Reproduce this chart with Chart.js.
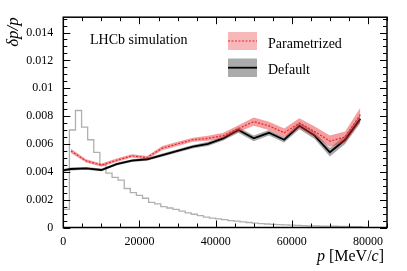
<!DOCTYPE html>
<html>
<head>
<meta charset="utf-8">
<script src="https://cdn.jsdelivr.net/npm/chart.js@4.4.0/dist/chart.umd.min.js"></script>
<style>
  html, body { margin: 0; padding: 0; background: #fff; }
  canvas { display: block; }
</style>
</head>
<body>
<canvas id="chart" width="407" height="271"></canvas>
<script>
const SERIF = "'Liberation Serif', 'DejaVu Serif', serif";

// momentum bin centres [MeV/c]
const pCentres = [2000, 6000, 10000, 14000, 18000, 22000, 26000, 30000, 34000, 38000,
                  42000, 46000, 50000, 54000, 58000, 62000, 66000, 70000, 74000, 78000];
const pDefault = [0, 2000, 6000, 10000, 14000, 18000, 22000, 26000, 30000, 34000, 38000,
                  42000, 46000, 50000, 54000, 58000, 62000, 66000, 70000, 74000, 78000];

// resolution dp/p
const paramRes = [0.0055, 0.00478, 0.00448, 0.00483, 0.00514, 0.00502, 0.0057, 0.0060, 0.0063, 0.0064,
                  0.0066, 0.0071, 0.0076, 0.0073, 0.0068, 0.0075, 0.0069, 0.0062, 0.0065, 0.0081];
const paramErr = [0.00015, 0.00012, 0.00012, 0.00012, 0.00012, 0.00012, 0.00015, 0.00015, 0.00015, 0.00018,
                  0.0002, 0.00025, 0.0003, 0.0003, 0.0003, 0.00035, 0.00035, 0.0004, 0.0004, 0.0005];
const defaultRes = [0.0041, 0.0042, 0.00424, 0.00413, 0.00455, 0.0048, 0.0049, 0.0052, 0.0055, 0.0058, 0.0060,
                    0.0064, 0.0070, 0.0064, 0.0068, 0.0063, 0.0073, 0.0066, 0.0054, 0.0063, 0.0078];
const defaultErr = [0.0001, 0.0001, 0.0001, 0.0001, 0.0001, 0.0001, 0.0001, 0.00012, 0.00012, 0.00012, 0.00015,
                    0.00015, 0.0002, 0.0002, 0.0002, 0.0002, 0.00025, 0.00025, 0.0003, 0.0003, 0.0003];

// momentum spectrum (arbitrary scale), bins of 1600 MeV/c from 0
const histBinWidth = 1600;
const histValues = [0, 0.0013, 0.0070, 0.0084, 0.0072, 0.0063, 0.0054, 0.0045, 0.0039, 0.0036,
                    0.0034, 0.0028, 0.0025, 0.0023, 0.0021, 0.0018, 0.0017, 0.0015, 0.0014, 0.0013,
                    0.00118, 0.00105, 0.00095, 0.00085, 0.00075, 0.00068, 0.00062, 0.00056, 0.0005, 0.00046,
                    0.0004, 0.00036, 0.00032, 0.00028, 0.00025, 0.00022, 0.0002, 0.00019, 0.00017, 0.00015,
                    0.00013, 0.00012, 0.00011, 0.0001, 0.0001, 0.00009, 0.00008, 0.00008, 0.00007, 0.00006];

// tick labels
const xTicks = [0, 20000, 40000, 60000, 80000];
const yTicks = [0, 0.002, 0.004, 0.006, 0.008, 0.01, 0.012, 0.014];

const xMax = 85000, yMax = 0.0151;

const pts = (xs, ys) => xs.map((x, i) => ({ x, y: ys[i] }));
const histPts = histValues.map((v, i) => ({ x: i * histBinWidth, y: v }));
histPts.push({ x: histValues.length * histBinWidth, y: 0 });

const RED = "#e8262a";

// inward ticks on all four sides + frame
const frameTicks = {
  id: "frameTicks",
  afterDatasetsDraw(chart) {
    const { ctx, chartArea: a, scales: { x, y } } = chart;
    ctx.save();
    ctx.strokeStyle = "#000";
    ctx.lineWidth = 1;
    ctx.beginPath();
    for (let i = 0; i * 5000 <= xMax; i++) {
      const px = Math.round(x.getPixelForValue(i * 5000)) + 0.5;
      const len = i % 4 === 0 ? 7 : 4;
      ctx.moveTo(px, a.bottom); ctx.lineTo(px, a.bottom - len);
      ctx.moveTo(px, a.top); ctx.lineTo(px, a.top + len);
    }
    for (let i = 0; i * 0.0005 <= yMax; i++) {
      const py = Math.round(y.getPixelForValue(i * 0.0005)) + 0.5;
      const len = i % 4 === 0 ? 7 : 4;
      ctx.moveTo(a.left, py); ctx.lineTo(a.left + len, py);
      ctx.moveTo(a.right, py); ctx.lineTo(a.right - len, py);
    }
    ctx.stroke();
    ctx.lineWidth = 1.5;
    ctx.strokeRect(a.left, a.top, a.right - a.left, a.bottom - a.top);
    ctx.restore();
  }
};

// legend, label and x title
const annotations = {
  id: "annotations",
  afterDraw(chart) {
    const { ctx } = chart;
    ctx.save();
    ctx.fillStyle = "#000";
    ctx.textBaseline = "alphabetic";
    ctx.font = `14px ${SERIF}`;
    ctx.fillText("LHCb simulation", 90, 44);

    // Parametrized
    ctx.fillStyle = "rgba(232,38,42,0.33)";
    ctx.fillRect(228, 32, 29, 18);
    ctx.strokeStyle = RED;
    ctx.lineWidth = 1.2;
    ctx.setLineDash([2, 1.5]);
    ctx.beginPath(); ctx.moveTo(228, 41); ctx.lineTo(257, 41); ctx.stroke();
    ctx.setLineDash([]);
    // Default
    ctx.fillStyle = "rgba(0,0,0,0.33)";
    ctx.fillRect(228, 58.5, 29, 18.5);
    ctx.strokeStyle = "#000";
    ctx.lineWidth = 1.8;
    ctx.beginPath(); ctx.moveTo(228, 67.7); ctx.lineTo(257, 67.7); ctx.stroke();

    ctx.fillStyle = "#000";
    ctx.font = `14px ${SERIF}`;
    ctx.fillText("Parametrized", 268, 47.5);
    ctx.fillText("Default", 268, 74.3);

    // x axis title: p [MeV/c]
    const parts = [["p", "italic "], [" [MeV/", ""], ["c", "italic "], ["]", ""]];
    let w = 0;
    parts.forEach(([t, s]) => { ctx.font = `${s}16px ${SERIF}`; w += ctx.measureText(t).width; });
    let xx = 384 - w;
    parts.forEach(([t, s]) => {
      ctx.font = `${s}16px ${SERIF}`;
      ctx.fillText(t, xx, 261);
      xx += ctx.measureText(t).width;
    });
    ctx.restore();
  }
};

new Chart(document.getElementById("chart"), {
  type: "line",
  data: {
    datasets: [
      { label: "Parametrized", data: pts(pCentres, paramRes), borderColor: RED, borderWidth: 1.2,
        borderDash: [2, 1.5], pointRadius: 0, fill: false, order: 0 },
      { label: "paramHi", data: pts(pCentres, paramRes.map((v, i) => v + paramErr[i])),
        borderWidth: 0, pointRadius: 0, fill: false, order: 1 },
      { label: "paramLo", data: pts(pCentres, paramRes.map((v, i) => v - paramErr[i])),
        borderWidth: 0, pointRadius: 0, fill: "-1", backgroundColor: "rgba(232,38,42,0.45)", order: 1 },
      { label: "Default", data: pts(pDefault, defaultRes), borderColor: "#000", borderWidth: 1.8,
        pointRadius: 0, fill: false, order: 2 },
      { label: "defaultHi", data: pts(pDefault, defaultRes.map((v, i) => v + defaultErr[i])),
        borderWidth: 0, pointRadius: 0, fill: false, order: 3 },
      { label: "defaultLo", data: pts(pDefault, defaultRes.map((v, i) => v - defaultErr[i])),
        borderWidth: 0, pointRadius: 0, fill: "-1", backgroundColor: "rgba(0,0,0,0.35)", order: 3 },
      { label: "spectrum", data: histPts, stepped: "after", borderColor: "#b0b0b0", borderWidth: 1.3,
        pointRadius: 0, fill: false, order: 4 }
    ]
  },
  options: {
    responsive: false,
    animation: false,
    layout: { padding: { left: 0, top: 14, right: 20, bottom: 0 } },
    plugins: { legend: { display: false }, tooltip: { enabled: false } },
    scales: {
      x: {
        type: "linear", min: 0, max: xMax,
        grid: { display: false, drawTicks: false }, border: { display: false },
        afterBuildTicks(s) { s.ticks = xTicks.map(value => ({ value })); },
        ticks: { maxRotation: 0, autoSkip: false, padding: 7, color: "#000",
                 font: { family: SERIF, size: 12 },
                 callback: v => String(v) },
        afterFit(s) { s.height = 43.5; }
      },
      y: {
        min: 0, max: yMax,
        grid: { display: false, drawTicks: false }, border: { display: false },
        afterBuildTicks(s) { s.ticks = yTicks.map(value => ({ value })); },
        ticks: { padding: 10, autoSkip: false, color: "#000",
                 font: { family: SERIF, size: 12 },
                 callback: v => String(+v.toFixed(3)) },
        title: { display: true, text: "δp/p", align: "end", color: "#000", padding: { top: 3, bottom: 0 },
                 font: { family: SERIF, size: 17, style: "italic" } },
        afterFit(s) { s.width = 63.3; }
      }
    }
  },
  plugins: [frameTicks, annotations]
});
</script>
</body>
</html>
